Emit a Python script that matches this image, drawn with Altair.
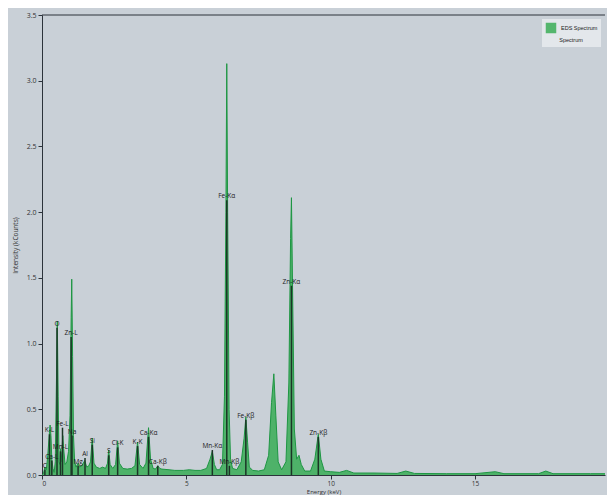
import altair as alt
import pandas as pd

# ---- spectrum (energy in keV, intensity in kCounts) ----
energy = [0.00, 0.05, 0.10, 0.15, 0.20, 0.25, 0.28, 0.31, 0.34, 0.38, 0.42, 0.46,
          0.50, 0.53, 0.56, 0.59, 0.62, 0.64, 0.66, 0.69, 0.72, 0.75, 0.80, 0.86,
          0.92, 0.97, 1.01, 1.03, 1.06, 1.09, 1.13, 1.18, 1.25, 1.30, 1.38, 1.48,
          1.55, 1.62, 1.68, 1.74, 1.80, 1.88, 2.00, 2.10, 2.20, 2.27, 2.31, 2.36,
          2.45, 2.55, 2.62, 2.68, 2.80, 2.95, 3.10, 3.22, 3.31, 3.38, 3.50, 3.60,
          3.69, 3.76, 3.85, 3.93, 4.01, 4.08, 4.15, 4.40, 4.60, 4.90, 5.10, 5.30,
          5.50, 5.70, 5.82, 5.90, 5.97, 6.05, 6.15, 6.25, 6.32, 6.37, 6.40, 6.43,
          6.48, 6.53, 6.60, 6.75, 6.90, 7.00, 7.06, 7.12, 7.18, 7.30, 7.50, 7.70,
          7.85, 7.95, 8.03, 8.10, 8.18, 8.30, 8.45, 8.55, 8.61, 8.64, 8.68, 8.74,
          8.82, 8.90, 8.98, 9.10, 9.30, 9.45, 9.57, 9.66, 9.78, 10.00, 10.30, 10.55,
          10.80, 11.50, 12.30, 12.60, 12.90, 14.00, 15.00, 15.70, 16.00, 17.20, 17.45,
          17.70, 19.00, 19.50]
intensity = [0.00, 0.01, 0.06, 0.04, 0.15, 0.30, 0.38, 0.30, 0.12, 0.05, 0.02, 0.10,
             0.70, 1.17, 0.60, 0.10, 0.08, 0.20, 0.10, 0.18, 0.30, 0.20, 0.08, 0.10,
             0.18, 0.45, 1.20, 1.49, 0.90, 0.30, 0.10, 0.06, 0.09, 0.06, 0.07, 0.11,
             0.06, 0.07, 0.10, 0.28, 0.09, 0.06, 0.05, 0.06, 0.05, 0.09, 0.19, 0.08,
             0.05, 0.08, 0.26, 0.09, 0.05, 0.045, 0.05, 0.07, 0.25, 0.08, 0.05, 0.09,
             0.36, 0.12, 0.05, 0.045, 0.07, 0.05, 0.045, 0.04, 0.035, 0.035, 0.04, 0.035,
             0.035, 0.05, 0.12, 0.18, 0.08, 0.04, 0.04, 0.08, 0.60, 2.00, 3.13, 2.00,
             0.50, 0.12, 0.05, 0.04, 0.10, 0.28, 0.44, 0.25, 0.06, 0.035, 0.03, 0.04,
             0.15, 0.55, 0.77, 0.45, 0.10, 0.04, 0.10, 0.70, 1.80, 2.11, 1.40, 0.35,
             0.12, 0.15, 0.08, 0.03, 0.03, 0.12, 0.31, 0.12, 0.03, 0.025, 0.02, 0.035,
             0.015, 0.015, 0.012, 0.03, 0.012, 0.01, 0.01, 0.025, 0.01, 0.01, 0.03,
             0.01, 0.01, 0.01]

# ---- element line markers ----
line_names = ["C", "K-L", "Ca-L", "O", "Mn-L", "Fe-L", "Zn-L", "Na", "Mg", "Al",
              "Si", "S", "Cl-K", "K-K", "Ca-Kα", "Ca-Kβ", "Mn-Kα", "Fe-Kα",
              "Mn-Kβ", "Fe-Kβ", "Zn-Kα", "Zn-Kβ"]
line_energy = [0.10, 0.26, 0.34, 0.52, 0.64, 0.71, 1.01, 1.04, 1.25, 1.49,
               1.74, 2.31, 2.62, 3.31, 3.69, 4.01, 5.90, 6.40,
               6.49, 7.06, 8.64, 9.57]
line_height = [0.04, 0.31, 0.11, 1.12, 0.18, 0.36, 1.05, 0.30, 0.07, 0.13,
               0.23, 0.15, 0.21, 0.22, 0.29, 0.07, 0.19, 2.09,
               0.07, 0.42, 1.44, 0.29]

x_ticks = [0, 5, 10, 15]
y_ticks = [0.0, 0.5, 1.0, 1.5, 2.0, 2.5, 3.0, 3.5]
x_max = 19.5

spec = pd.DataFrame({"energy": energy, "intensity": intensity,
                     "series": ["EDS Spectrum"] * len(energy)})
markers = pd.DataFrame({"name": line_names, "energy": line_energy,
                        "height": line_height})
top = pd.DataFrame({"top": [max(y_ticks)]})

xs = alt.Scale(domain=[0, x_max], nice=False, zero=False)
ys = alt.Scale(domain=[0, max(y_ticks)], nice=False)

x_enc = alt.X("energy:Q", scale=xs,
              axis=alt.Axis(values=x_ticks, format="d", title="Energy (keV)",
                            titlePadding=2, labelPadding=1, labelFontSize=6.5,
                            titleFontSize=6))
y_enc = alt.Y("intensity:Q", scale=ys,
              axis=alt.Axis(values=y_ticks, format=".1f",
                            title="Intensity (kCounts)", titlePadding=8,
                            labelPadding=2))

area = alt.Chart(spec).mark_area(interpolate="linear", opacity=0.8).encode(
    x=x_enc,
    y=y_enc,
    color=alt.Color("series:N", scale=alt.Scale(range=["#2faa4e"]),
                    legend=alt.Legend(title="Spectrum", orient="top-right",
                                      offset=4, symbolType="square",
                                      symbolSize=110, labelFontSize=5.5,
                                      titleFontSize=5.5, titleFontWeight="normal",
                                      titleOrient="bottom", titleAnchor="middle",
                                      fillColor="#e3e7eb", padding=3,
                                      labelColor="#222", titleColor="#222")),
)

line = alt.Chart(spec).mark_line(color="#1e9643", strokeWidth=1,
                                 interpolate="linear").encode(
    x="energy:Q", y="intensity:Q")

rules = alt.Chart(markers).mark_rule(color="#1b3526", strokeWidth=1.5).encode(
    x="energy:Q", y="height:Q", y2=alt.datum(0))

labels = alt.Chart(markers).mark_text(fontSize=6.5, baseline="bottom", dy=-1,
                                      font="Open Sans", color="#1a1a1a").encode(
    x="energy:Q", y="height:Q", text="name:N")

border = alt.Chart(top).mark_rule(color="#2c333b", strokeWidth=1).encode(
    y="top:Q")

chart = alt.layer(area, line, rules, labels, border).properties(
    width=563, height=460,
    padding={"left": 4, "top": 3, "right": 0, "bottom": 0},
    background="#c9d0d7",
).configure_view(stroke=None).configure_axis(
    domainColor="#2c333b", tickColor="#2c333b", labelColor="#333",
    titleColor="#333", labelFontSize=7, titleFontSize=6.5,
    titleFontWeight="normal", labelFont="Open Sans", titleFont="Open Sans",
    grid=False, tickSize=4,
)

chart.save("out.html", embed_options={"renderer": "svg", "actions": False})
